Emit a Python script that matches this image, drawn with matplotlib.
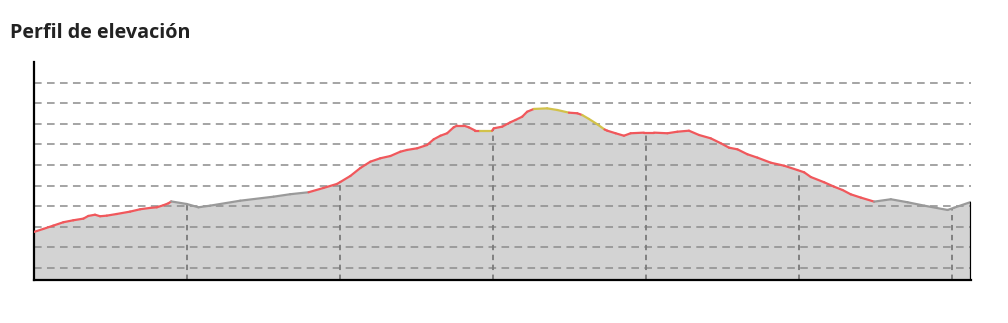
import numpy as np
import matplotlib
matplotlib.use('Agg')
import matplotlib.pyplot as plt
from matplotlib.collections import LineCollection

# distancia (km) y altitud (m) del perfil
km = [0.000, 0.061, 0.126, 0.192, 0.257, 0.323, 0.355, 0.399, 0.432, 0.476,
      0.541, 0.628, 0.694, 0.759, 0.803, 0.846, 0.879, 0.897, 0.999, 1.075,
      1.152, 1.348, 1.566, 1.675, 1.795, 1.893, 1.981, 2.003, 2.068, 2.134,
      2.199, 2.264, 2.330, 2.395, 2.439, 2.505, 2.570, 2.613, 2.657, 2.701,
      2.744, 2.766, 2.810, 2.842, 2.886, 2.919, 2.995, 3.006, 3.061, 3.115,
      3.148, 3.192, 3.224, 3.268, 3.355, 3.421, 3.497, 3.552, 3.584, 3.628,
      3.683, 3.730, 3.748, 3.802, 3.857, 3.901, 3.988, 4.053, 4.141, 4.206,
      4.282, 4.348, 4.424, 4.490, 4.544, 4.599, 4.664, 4.730, 4.817, 4.904,
      4.991, 5.035, 5.079, 5.166, 5.231, 5.286, 5.340, 5.406, 5.493, 5.602,
      5.711, 5.820, 5.973, 6.016, 6.126]
elev = [835.0, 837.9, 841.1, 844.4, 846.3, 847.9, 850.5, 851.7, 850.2, 850.8,
        852.4, 854.7, 857.0, 858.3, 858.9, 860.9, 862.8, 864.6, 862.1, 858.9,
        860.5, 865.3, 869.2, 871.6, 873.5, 877.7, 881.6, 883.5, 889.3, 897.1,
        903.2, 906.5, 908.7, 912.9, 914.6, 916.2, 919.4, 924.9, 928.4, 930.8,
        936.6, 938.2, 938.2, 936.6, 933.3, 933.3, 933.3, 935.6, 937.2, 941.5,
        943.7, 946.9, 951.7, 954.4, 955.0, 953.4, 950.8, 950.2, 948.5, 944.7,
        939.5, 934.5, 933.3, 930.8, 928.4, 930.8, 931.4, 931.4, 930.8, 932.3,
        933.3, 929.1, 925.9, 921.1, 916.8, 915.2, 910.4, 907.1, 902.2, 899.3,
        895.1, 892.9, 888.3, 883.2, 878.9, 875.7, 871.5, 868.3, 864.4, 866.7,
        863.8, 860.5, 856.3, 858.5, 864.1]

# tramos: km donde empieza cada tipo
tramo_km = [0.0, 0.897, 1.795, 2.919, 2.995, 3.268, 3.497, 3.584, 3.730, 5.493]
tramo_tipo = ['rojo', 'gris', 'rojo', 'amarillo', 'rojo', 'amarillo', 'rojo',
              'amarillo', 'rojo', 'gris']
colores = {'rojo': '#f0585c', 'gris': '#9a9a9a', 'amarillo': '#d2c24a'}

ymin, ymax = 788.3, 1000
grid_y = np.arange(800, 1000, 20)
marcas_km = [1, 2, 3, 4, 5, 6]

km = np.array(km)
elev = np.array(elev)

fig = plt.figure(figsize=(10.08, 3.23), dpi=100)
ax = fig.add_axes([34/1008, (323-280)/323, (971-34)/1008, (280-62)/323])

ax.fill_between(km, ymin, elev, color='#d3d3d3', lw=0, zorder=1)

# lineas horizontales
for g in grid_y:
    ax.axhline(g, color='#8c8c8c', lw=1.1, ls=(0, (5, 3.5)), zorder=1.5)

# lineas verticales hasta el perfil
tops = np.interp(marcas_km, km, elev)
ax.vlines(marcas_km, ymin, tops, color='#7a7a7a', lw=1.3, ls=(0, (3, 2.5)), zorder=1.6)

# perfil coloreado por tramos
segs = np.stack([np.column_stack([km[:-1], elev[:-1]]),
                 np.column_stack([km[1:], elev[1:]])], axis=1)
idx = np.searchsorted(tramo_km, km[:-1] + 1e-9) - 1
cols = [colores[tramo_tipo[i]] for i in idx]
lc = LineCollection(segs, colors=cols, linewidths=1.6, zorder=3, capstyle='round')
ax.add_collection(lc)

# borde derecho hasta el perfil
ax.vlines(km[-1], ymin, elev[-1], color='black', lw=1.6, zorder=4)

ax.set_xlim(0, km[-1])
ax.set_ylim(ymin, ymax)
ax.set_xticks([])
ax.set_yticks([])
for s in ['top', 'right']:
    ax.spines[s].set_visible(False)
for s in ['left', 'bottom']:
    ax.spines[s].set_linewidth(1.6)
    ax.spines[s].set_color('black')

fig.text(10/1008, 1 - 33.5/323, 'Perfil de elevación', fontsize=14.2, fontweight='bold',
         family='Open Sans', color='#222222', va='center', ha='left')

fig.savefig('out.png', dpi=100)
